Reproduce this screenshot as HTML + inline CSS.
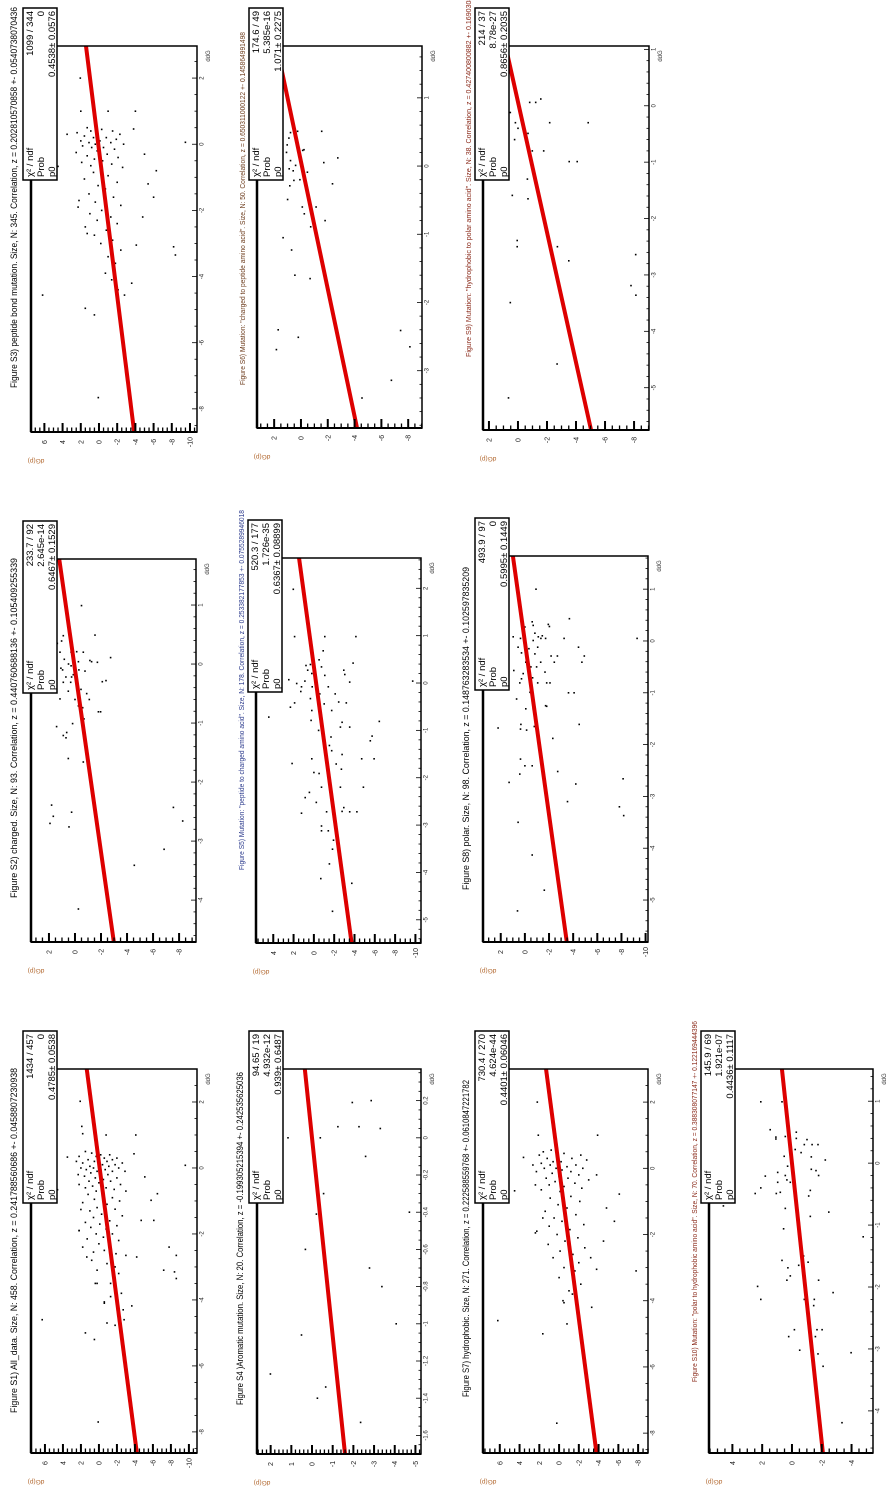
<!DOCTYPE html>
<html><head><meta charset="utf-8">
<style>
html,body{margin:0;padding:0;background:#fff;}
svg{display:block;}
text{font-family:"Liberation Sans",sans-serif;}
</style></head>
<body>
<svg id="chart" width="891" height="1493" viewBox="0 0 891 1493" xmlns="http://www.w3.org/2000/svg"></svg>
<script>
// ---------- DATA: points as [ddG, dG(p)] ----------
const s1Points=[[2.02,2.08],[1.26,1.9],[1.04,1.8],[1.0,-0.8],[1.0,-4.1],[0.33,3.5],[-0.66,4.6],[0.08,-9.6],[0.43,-3.9],[-0.27,-5.1],[-0.78,-6.5],[-0.98,-5.8],[-1.59,-6.1],[-1.59,-4.7],[-2.4,-7.8],[-2.65,-8.6],[-3.1,-7.2],[-3.15,-8.4],[-3.35,-8.6],[-4.6,6.3],[-5.0,1.5],[-5.2,0.5],[-7.7,0.08],[-4.18,-3.65],[-4.6,-2.8],[-4.77,-1.8],[-4.7,-0.9],[-4.06,-0.6],[-3.5,0.4],[-3.8,-2.5],[-2.7,-4.2],[-2.7,1.35],[-1.9,2.2],[-1.26,2.0],
[0.5,1.5],[0.45,0.8],[0.4,-0.2],[0.4,-1.2],[0.35,2.2],[0.35,0.3],[0.3,-0.6],[0.3,-2.0],[0.25,1.2],[0.25,-1.5],[0.2,0.5],[0.2,-0.9],[0.2,2.5],[0.15,-2.6],[0.15,1.8],[0.1,0.0],[0.1,-0.4],[0.1,-1.8],[0.05,1.0],[0.05,-1.1],[0,0.6],[0,-0.2],[0,-2.2],[0,2.0],[-0.05,1.4],[-0.05,-0.7],[-0.1,0.2],[-0.1,-1.5],[-0.1,-2.9],[-0.15,0.9],[-0.2,-0.3],[-0.2,-1.0],[-0.2,2.3],[-0.25,1.6],[-0.3,0.4],[-0.3,-2.0],[-0.35,-0.5],[-0.4,1.1],[-0.4,-1.3],[-0.45,0.0],[-0.5,2.2],[-0.5,-2.4],[-0.55,0.7],[-0.6,-0.8],[-0.6,1.5],[-0.65,-1.7],[-0.7,0.3],[-0.7,-3.0],
[-0.8,1.2],[-0.85,-0.4],[-0.9,-1.5],[-0.95,0.5],[-1.0,-2.3],[-1.05,1.8],[-1.1,-0.9],[-1.2,0.2],[-1.25,-1.8],[-1.3,1.0],[-1.4,-0.3],[-1.45,-2.6],[-1.5,0.6],[-1.6,-1.2],[-1.65,1.5],[-1.7,-0.1],[-1.75,-2.0],[-1.8,0.9],[-1.85,-0.8],[-1.9,2.2],[-2.0,-1.5],[-2.0,0.3],[-2.1,-0.5],[-2.15,1.3],[-2.2,-2.2],[-2.3,0.0],[-2.35,-1.1],[-2.4,1.8],[-2.5,-0.6],[-2.55,0.6],[-2.6,-1.9],[-2.65,-3.0],
[-2.8,0.8],[-2.9,-0.9],[-3.0,-1.8],[-3.1,0.2],[-3.2,-2.2],[-3.5,-1.3],[-3.5,0.2],[-3.7,-1.9],[-3.9,-1.3],[-4.1,-0.6],[-4.3,-2.7]];
const s3Points=[[2.0,2.05],[1.0,2.0],[1.0,-1.0],[1.0,-4.0],[0.3,3.5],[-0.67,4.5],[0.06,-9.5],[0.46,-3.8],[-0.3,-5.0],[-0.8,-6.3],[-1.2,-5.4],[-1.6,-6.0],[-2.2,-4.8],[-3.1,-8.2],[-3.35,-8.4],[-4.56,6.2],[-4.96,1.5],[-5.16,0.5],[-7.66,0.08],[-4.2,-3.6],[-4.56,-2.8],[-3.05,-4.1],[-2.7,1.3],[-1.7,2.2],
[0.5,1.3],[0.45,-0.3],[0.4,0.9],[0.4,-1.5],[0.35,2.4],[0.3,0.1],[0.3,-2.3],[0.25,1.6],[0.2,-0.8],[0.2,0.6],[0.15,-1.9],[0.1,2.0],[0.1,-0.1],[0.05,1.1],[0.05,-1.3],[0,0.4],[0,-2.7],[-0.05,1.8],[-0.1,-0.5],[-0.1,0.8],[-0.15,-1.7],[-0.2,0.2],[-0.25,2.5],[-0.3,-0.9],[-0.35,1.3],[-0.4,-2.1],[-0.45,0.5],[-0.5,-0.4],[-0.55,1.9],[-0.6,-1.4],[-0.65,0.9],[-0.7,-2.6],
[-0.85,0.6],[-0.95,-1.0],[-1.05,1.6],[-1.15,-2.0],[-1.25,0.1],[-1.35,-0.7],[-1.5,1.1],[-1.6,-1.6],[-1.75,0.4],[-1.85,-2.4],[-1.9,2.3],[-2.0,-0.3],[-2.1,1.0],[-2.2,-1.3],[-2.3,0.2],[-2.4,-2.0],[-2.5,1.5],[-2.6,-0.8],[-2.75,0.5],[-2.9,-1.5],[-3.0,-0.2],[-3.2,-2.4],[-3.4,-1.0],[-3.6,-1.8],[-3.9,-0.7],[-4.1,-1.4],[-4.4,-2.1]];
const s7Points=[[2.0,2.2],[1.0,2.1],[1.0,-3.9],[0.33,3.6],[-0.68,4.5],[0.1,2.65],[-0.2,-3.8],[-0.78,-6.1],[-1.2,-4.8],[-1.6,-5.6],[-2.2,-4.5],[-3.1,-7.8],[-3.05,-3.8],[-2.7,-3.2],[-4.6,6.2],[-5.0,1.65],[-7.7,0.23],[-4.2,-3.3],[-4.7,-0.8],[-4.06,-0.5],[-3.8,-1.35],[-1.9,2.25],[-1.5,1.65],[-0.5,2.4],
[0.55,0.8],[0.5,1.6],[0.45,-0.5],[0.4,2.0],[0.4,-2.2],[0.35,0.2],[0.3,-1.3],[0.3,1.2],[0.25,-2.8],[0.2,0.6],[0.2,-0.2],[0.15,1.8],[0.1,-1.7],[0.1,0.9],[0.05,-0.8],[0,0.3],[0,-2.4],[0,1.5],[-0.05,-0.3],[-0.1,2.3],[-0.1,-1.2],[-0.15,0.7],[-0.2,-2.0],[-0.25,0.0],[-0.3,1.3],[-0.3,-0.9],[-0.35,-3.0],[-0.4,0.4],[-0.45,-1.6],[-0.5,1.0],[-0.55,-0.5],[-0.6,-2.3],[-0.65,1.8],[-0.7,-0.1],
[-0.85,-1.2],[-0.9,0.9],[-1.0,-2.1],[-1.1,0.1],[-1.2,-0.8],[-1.3,1.4],[-1.4,-1.7],[-1.5,0.5],[-1.6,-0.3],[-1.7,-2.5],[-1.75,1.0],[-1.85,-1.1],[-1.95,2.4],[-2.0,0.2],[-2.1,-1.9],[-2.2,-0.6],[-2.3,1.1],[-2.4,-2.6],[-2.5,-0.1],[-2.6,-1.4],[-2.7,0.6],[-2.85,-2.0],[-3.0,-0.5],[-3.1,-1.6],[-3.3,0.0],[-3.5,-2.2],[-3.7,-1.0],[-4.0,-0.4]];
const s2Points=[[0.99,-0.5],[0.49,-1.54],[0.48,0.9],[0.39,1.03],[0.35,1.36],[0.11,-2.74],[0.03,-1.72],[0.06,-1.15],[0.04,-1.28],[0.2,-0.64],[0.21,-0.13],[0.2,0.3],[0.2,1.15],[0.08,0.82],[-0.07,1.08],[-0.1,0.95],[0.0,0.5],[-0.03,0.3],[-0.02,0.13],[0.04,-0.26],[-0.1,-0.3],[-0.22,0.7],[-0.22,0.26],[-0.18,0.13],[-0.31,0.9],[-0.31,0.33],[-0.12,-0.77],[-0.3,-2.1],[-0.28,-2.38],[-0.43,-0.46],[-0.46,0.51],[-0.5,-0.9],[-0.6,-1.1],[-0.59,1.15],[-0.6,0],[-0.71,-0.26],[-0.74,-0.59],[-0.81,-1.8],[-0.81,-1.97],[-0.93,-0.69],[-1.01,0.18],[-1.06,1.41],[-1.21,0.9],[-1.25,0.69],[-1.16,0.64],[-1.6,0.51],[-1.66,-0.64],[-2.39,1.8],[-2.58,1.67],[-2.7,1.92],[-2.51,0.26],[-2.76,0.46],[-2.43,-7.56],[-2.66,-8.28],[-3.14,-6.85],[-3.41,-4.56],[-4.15,-0.26]];
const s5Points=[[1.98,2.03],[0.98,1.9],[0.98,-1.08],[0.98,-4.14],[0.68,-0.92],[0.42,-3.86],[0.04,-9.73],[-0.72,4.44],[-0.51,2.31],[-0.42,1.9],[0.07,2.47],[-0.01,1.69],[-0.08,1.22],[-0.18,1.29],[0.04,0.88],[0.27,0.61],[0.39,0.34],[0.37,0.78],[0.2,0.2],[-0.08,0.17],[-0.33,0.34],[-0.58,0.2],[-0.79,0.27],[0.49,-0.51],[0.34,-0.75],[0.16,-1.08],[-0.08,-1.42],[-0.23,-0.58],[-0.44,-1.02],[-0.58,-1.76],[-0.23,-2.1],[-0.4,-2.44],[0.27,-2.95],[0.18,-3.05],[0.02,-3.53],[-0.42,-3.19],[-0.83,-2.78],[-0.93,-3.53],[-0.93,-2.61],[-1.0,-0.47],[-1.14,-1.69],[-1.32,-1.53],[-1.43,-1.76],[-1.51,-2.78],[-0.81,-6.44],[-1.22,-5.56],[-1.12,-5.73],[-1.6,-5.93],[-1.6,-4.71],[-1.7,2.14],[-1.6,0.2],[-1.89,0],[-1.91,-0.51],[-1.71,-2.2],[-1.82,-2.71],[-2.2,-2.61],[-2.2,-1.69],[-2.2,-0.75],[-2.31,0.44],[-2.42,0.85],[-2.52,-0.24],[-2.2,-4.88],[-2.75,1.22],[-2.72,-1.25],[-2.71,-2.78],[-2.72,-3.53],[-2.72,-4.24],[-2.63,-2.95],[-3.12,-0.75],[-3.02,-0.75],[-3.12,-1.42],[-3.32,-1.93],[-3.51,-1.83],[-3.82,-1.53],[-4.13,-0.68],[-4.23,-3.73],[-4.82,-1.83]];
const s8Points=[[1.0,-0.92],[0.43,-3.69],[0.05,-9.3],[0.08,0.97],[-0.12,0.56],[0.05,0.36],[0.27,0],[0.37,-0.61],[0.3,-0.69],[0.15,-0.83],[0.32,-1.94],[0.28,-2.03],[0.05,-1.72],[0.08,-1.11],[0.05,-1.33],[0.1,-1.44],[0.01,-0.69],[-0.12,-1.06],[-0.15,-0.33],[-0.23,0.28],[-0.41,-0.08],[-0.5,-0.5],[-0.5,-0.97],[-0.41,-1.31],[-0.25,-0.83],[-0.29,-2.17],[-0.41,-2.44],[-0.29,-2.69],[0.05,-3.25],[-0.12,-4.44],[-0.41,-4.72],[-0.29,-4.92],[-0.57,0.92],[-0.63,0.14],[-0.73,0.28],[-0.81,0.42],[-0.71,-0.64],[-0.81,-1.06],[-0.6,-1.67],[-0.81,-1.81],[-0.81,-2.08],[-1.12,0.69],[-0.99,-0.42],[-1.0,-3.61],[-1.0,-4.08],[-1.25,-1.72],[-1.26,-1.81],[-1.31,-0.08],[-1.31,-0.69],[-1.68,2.22],[-1.61,0.33],[-1.7,0.36],[-1.72,-0.14],[-1.65,-0.78],[-1.61,-4.5],[-1.88,-2.31],[-2.28,0.36],[-2.41,0],[-2.57,0.42],[-2.41,-0.61],[-2.52,-2.72],[-2.73,1.31],[-2.76,-4.22],[-2.66,-8.14],[-3.1,-3.53],[-3.2,-7.83],[-3.37,-8.19],[-3.5,0.56],[-4.13,-0.61],[-4.81,-1.61],[-5.21,0.61]];
const s6Points=[[0.51,0.25],[0.51,-1.55],[0.49,0.78],[0.31,1.03],[0.41,0.9],[0.24,-0.23],[0.23,-0.13],[0.2,1.08],[0.08,0.78],[0.12,-2.75],[0.05,-1.7],[0.01,0.4],[-0.04,0.88],[-0.07,0.58],[-0.2,0.08],[-0.09,-0.48],[-0.21,0.53],[-0.29,0.83],[-0.26,-2.35],[-0.49,1.0],[-0.6,-0.1],[-0.6,-1.13],[-0.7,-0.25],[-0.8,-1.8],[-0.89,-0.73],[-1.05,1.33],[-1.23,0.7],[-1.6,0.45],[-1.65,-0.68],[-2.4,1.7],[-2.51,0.2],[-2.69,1.83],[-2.41,-7.43],[-2.65,-8.13],[-3.14,-6.75],[-3.4,-4.55]];
const s9Points=[[0.12,-1.57],[0.06,-1.22],[0.06,-0.81],[-0.12,0.53],[-0.3,0.18],[-0.3,-2.19],[-0.3,-4.84],[-0.4,0],[-0.49,-0.69],[-0.6,0.23],[-0.8,-0.99],[-0.8,-1.77],[-0.99,-3.53],[-0.99,-4.08],[-1.3,-0.65],[-1.59,0.39],[-1.65,-0.69],[-2.39,0.05],[-2.5,0.05],[-2.5,-2.72],[-2.75,-3.5],[-2.64,-8.11],[-3.19,-7.79],[-3.36,-8.13],[-3.49,0.53],[-4.58,-2.7],[-5.18,0.65]];
const s4Points=[[0.19,-1.95],[0.2,-2.86],[0.06,-1.25],[0.06,-2.27],[0.05,-3.3],[0.0,1.16],[0.0,-0.4],[-0.1,-2.59],[-0.3,-0.56],[-0.41,-0.21],[-0.4,-4.71],[-0.6,0.32],[-0.7,-2.78],[-0.8,-3.38],[-1.0,-4.07],[-1.06,0.51],[-1.27,2.01],[-1.34,-0.66],[-1.4,-0.26],[-1.53,-2.35]];
const s10Points=[[0.99,2.09],[0.99,0.67],[0.54,1.46],[0.5,-0.29],[0.42,1.08],[0.39,1.08],[0.43,0.45],[0.4,-0.29],[0.38,-1.01],[0.3,-0.83],[0.3,-1.35],[0.3,-1.75],[0.22,-0.22],[0.17,-0.61],[0.11,0.52],[0.1,-1.3],[0.05,-2.24],[-0.05,0.29],[-0.1,-1.3],[-0.12,-1.61],[-0.2,-1.79],[-0.15,0.96],[-0.21,1.79],[-0.2,0.45],[-0.27,0.34],[-0.31,0.96],[-0.31,0.11],[-0.4,2.09],[-0.44,-1.23],[-0.47,0.78],[-0.49,1.05],[-0.49,2.47],[-0.53,-1.12],[-0.69,4.6],[-0.73,0.45],[-0.79,-2.47],[-0.86,-1.23],[-0.97,-0.49],[-1.06,0.56],[-1.19,-4.78],[-1.5,-0.78],[-1.57,0.67],[-1.6,-1.08],[-1.65,-0.45],[-1.69,0.27],[-1.82,0.11],[-1.89,0.34],[-1.89,-1.79],[-1.99,2.31],[-2.09,-2.76],[-2.2,2.09],[-2.2,-0.83],[-2.2,-1.5],[-2.3,-1.46],[-2.69,-0.16],[-2.69,-1.68],[-2.69,-2.02],[-2.8,-1.57],[-2.8,0.22],[-3.02,-0.52],[-3.08,-1.75],[-3.06,-3.97],[-3.28,-2.09],[-4.19,-3.36]];

// fit results
const fitP0=[0.4785,0.4538,0.6467,0.6367,0.5995,1.071,0.8656,0.939,0.4401,0.4436];
const fitOffset=[-0.08,0.08,0.06,-0.22,0.01,-0.07,-0.06,0,0,0];
const statChi=["1434 / 457","1099 / 344","233.7 / 92","520.3 / 177","493.9 / 97","174.6 / 49","214 / 37","94.65 / 19","730.4 / 270","145.9 / 69"];
const statProb=["0","0","2.645e-14","1.726e-35","0","5.385e-16","8.78e-27","4.932e-12","4.624e-44","1.921e-07"];
const statP0=["0.4785\u00b1 0.0538","0.4538\u00b1 0.0576","0.6467\u00b1 0.1529","0.6367\u00b1 0.08899","0.5995\u00b1 0.1449","1.071\u00b1 0.2275","0.8656\u00b1 0.2035","0.939\u00b1 0.6487","0.4401\u00b1 0.06046","0.4436\u00b1 0.1117"];
const titles=[
"Figure S1) All_data. Size, N: 458. Correlation, z = 0.241788560686 +- 0.0458807230938",
"Figure S3) peptide bond mutation. Size, N: 345.  Correlation, z = 0.202810570858 +- 0.0540738070436",
"Figure S2) charged. Size, N: 93.  Correlation, z = 0.440760688136 +- 0.105409255339",
"Figure S5) Mutation: \"peptide to charged amino acid\". Size, N: 178.  Correlation, z = 0.253382177853 +- 0.0755289946018",
"Figure S8) polar. Size, N: 98.  Correlation, z = 0.148763283534  +- 0.102597835209",
"Figure S6) Mutation: \"charged to peptide amino acid\". Size, N: 50.  Correlation, z = 0.650311000122 +- 0.145864991498",
"Figure S9) Mutation: \"hydrophobic to polar amino acid\". Size, N: 38.  Correlation, z = 0.427400800882 +- 0.169030850946",
"Figure S4 )Aromatic mutation. Size, N: 20.  Correlation, z = -0.199305215394 +- 0.242535625036",
"Figure S7) hydrophobic. Size, N: 271.  Correlation, z = 0.222588559768 +- 0.0610847221782",
"Figure S10) Mutation: \"polar to hydrophobic amino acid\". Size, N: 70.  Correlation, z = 0.388308077147 +- 0.122169444396"];
const allPoints=[s1Points,s3Points,s2Points,s5Points,s8Points,s6Points,s9Points,s4Points,s7Points,s10Points];

// ---------- layout (pixels / axis ranges) ----------
const layout=[
{id:"s1",x0:31,x1:197,y0:1069,y1:1453,gL:7.55,gR:-10.9,dT:3.0,dB:-8.64,gS:2,gM:0.5,dS:2,dM:0.5,tY:1413,tL:345,small:false,tc:"#000"},
{id:"s3",x0:31,x1:197,y0:46,y1:432,gL:7.47,gR:-10.77,dT:2.97,dB:-8.7,gS:2,gM:0.5,dS:2,dM:0.5,tY:388,tL:381,small:false,tc:"#000"},
{id:"s2",x0:31,x1:196,y0:559,y1:942,gL:3.38,gR:-9.3,dT:1.78,dB:-4.71,gS:2,gM:0.5,dS:1,dM:0.2,tY:898,tL:340,small:false,tc:"#000"},
{id:"s5",x0:256,x1:421,y0:558,y1:943,gL:5.7,gR:-10.55,dT:2.64,dB:-5.49,gS:2,gM:0.5,dS:1,dM:0.2,tY:870,tL:360,small:true,tc:"#2b3a8c"},
{id:"s8",x0:483,x1:648,y0:556,y1:942,gL:3.47,gR:-10.2,dT:1.64,dB:-5.81,gS:2,gM:0.5,dS:1,dM:0.2,tY:890,tL:323,small:false,tc:"#000"},
{id:"s6",x0:257,x1:422,y0:46,y1:428,gL:3.28,gR:-9.03,dT:1.76,dB:-3.84,gS:2,gM:0.5,dS:1,dM:0.2,tY:385,tL:353,small:true,tc:"#6b3a1a"},
{id:"s9",x0:483,x1:649,y0:46,y1:430,gL:2.41,gR:-9.03,dT:1.06,dB:-5.75,gS:2,gM:0.5,dS:1,dM:0.2,tY:357,tL:380,small:true,tc:"#8a2a1a"},
{id:"s4",x0:257,x1:421,y0:1069,y1:1454,gL:2.66,gR:-5.27,dT:0.37,dB:-1.70,gS:1,gM:0.2,dS:0.2,dM:0.05,tY:1405,tL:333,small:false,tc:"#000"},
{id:"s7",x0:483,x1:648,y0:1069,y1:1453,gL:7.7,gR:-9.0,dT:3.0,dB:-8.6,gS:2,gM:0.5,dS:2,dM:0.5,tY:1397,tL:317,small:false,tc:"#000"},
{id:"s10",x0:709,x1:873,y0:1069,y1:1453,gL:5.57,gR:-5.44,dT:1.52,dB:-4.68,gS:2,gM:0.5,dS:1,dM:0.2,tY:1382,tL:361,small:true,tc:"#8a2a1a"}];

const NS="http://www.w3.org/2000/svg";
const svg=document.getElementById("chart");
function mk(tag,attrs,parent){const e=document.createElementNS(NS,tag);for(const k in attrs)e.setAttribute(k,attrs[k]);(parent||svg).appendChild(e);return e;}
function fmt(v){return String(parseFloat(v.toFixed(3)));}

layout.forEach((L,i)=>{
  const g=mk("g",{});
  
  
  const sx=v=>L.x0+(L.gL-v)/(L.gL-L.gR)*(L.x1-L.x0);
  const sy=v=>L.y0+(L.dT-v)/(L.dT-L.dB)*(L.y1-L.y0);
  const t=mk("text",{x:0,y:0,transform:`translate(${L.small?L.x0-12:L.x0-14},${L.tY}) rotate(-90)`,"font-size":L.small?7:9,fill:L.tc,textLength:L.tL,lengthAdjust:"spacingAndGlyphs"},g);
  t.textContent=titles[i];
  
  
  mk("rect",{x:L.x0,y:L.y0,width:L.x1-L.x0,height:L.y1-L.y0,fill:"#fff"},g);
  const pg=mk("g",{},g);
  
  
  allPoints[i].forEach(p=>{
    const px=sx(p[1]),py=sy(p[0]);
    if(px<L.x0||px>L.x1||py<L.y0||py>L.y1)return;
    const r=mk("rect",{x:(px-0.8).toFixed(1),y:(py-0.8).toFixed(1),width:1.6,height:1.6,fill:"#000"},pg);
    
    
  });
  let dTop=L.dT,dBot=L.dB;
  const f=d=>fitP0[i]*d+fitOffset[i];
  if(f(dTop)>L.gL)dTop=(L.gL-fitOffset[i])/fitP0[i];
  const ln=mk("line",{x1:sx(f(dTop)),y1:sy(dTop),x2:sx(f(dBot)),y2:sy(dBot),stroke:"#dd0000","stroke-width":4},g);
  
  
  const fr=mk("rect",{x:L.x0,y:L.y0,width:L.x1-L.x0,height:L.y1-L.y0,fill:"none",stroke:"#000","stroke-width":1.5},g);
  
  
  mk("line",{x1:L.x0,y1:L.y0,x2:L.x0,y2:L.y1,stroke:"#000","stroke-width":2.5},g);
  mk("line",{x1:L.x0,y1:L.y1,x2:L.x1,y2:L.y1,stroke:"#000","stroke-width":2},g);
  const ga=mk("g",{},g);
  
  
  for(let k=Math.ceil(L.gR/L.gM-1e-6);k<=Math.floor(L.gL/L.gM+1e-6);k++){
    const v=k*L.gM,x=sx(v);
    const major=Math.abs(v/L.gS-Math.round(v/L.gS))<1e-6;
    mk("line",{x1:x,y1:L.y1,x2:x,y2:L.y1-(major?9:4.5),stroke:"#000","stroke-width":major?2:1.3},ga);
    if(major){
      const tx=mk("text",{x:0,y:0,transform:`translate(${x+2.5},${L.y1+10}) rotate(-90)`,"font-size":7,"text-anchor":"middle",fill:"#222"},ga);
      tx.textContent=fmt(v);
      
      
    }
  }
  const da=mk("g",{},g);
  
  
  for(let k=Math.ceil(L.dB/L.dM-1e-6);k<=Math.floor(L.dT/L.dM+1e-6);k++){
    const v=k*L.dM,y=sy(v);
    const major=Math.abs(v/L.dS-Math.round(v/L.dS))<1e-6;
    mk("line",{x1:L.x1,y1:y,x2:L.x1-(major?5:2.5),y2:y,stroke:"#000","stroke-width":0.8},da);
    if(major){
      const tx=mk("text",{x:0,y:0,transform:`translate(${L.x1+6.5},${y}) rotate(-90)`,"font-size":6,"text-anchor":"middle",fill:"#222"},da);
      tx.textContent=fmt(v);
      
      
    }
  }
  const at=mk("text",{x:0,y:0,transform:`translate(${L.x1+13},${L.y0+10}) rotate(-90)`,"font-size":6,"text-anchor":"middle",fill:"#333"},g);
  at.textContent="ddG";
  
  
  const yt=mk("text",{x:0,y:0,transform:`translate(${L.x0+5},${L.y1+27}) rotate(180)`,"font-size":6.5,"text-anchor":"middle",fill:"#b0642a"},g);
  yt.textContent="dG(p)";
  
  
  // stats box
  const sb=mk("g",{},g);
  
  
  const bL=L.x0-8,bT=L.y0-38,bB=L.y0+134;
  mk("rect",{x:bL,y:bT,width:34,height:bB-bT,fill:"#fff",stroke:"#000","stroke-width":1.5},sb);
  const labels=["\u03c7\u00b2 / ndf","Prob","p0"],vals=[statChi[i],statProb[i],statP0[i]];
  [bL+10,bL+21,bL+32].forEach((bx,j)=>{
    const a=mk("text",{x:0,y:0,transform:`translate(${bx},${bB-3}) rotate(-90)`,"font-size":9.5,fill:"#000"},sb);
    a.textContent=labels[j];
    
    
    const b=mk("text",{x:0,y:0,transform:`translate(${bx},${bT+3}) rotate(-90)`,"font-size":9.5,"text-anchor":"end",fill:"#000"},sb);
    b.textContent=vals[j];
    
    
  });
});
</script>
</body></html>
